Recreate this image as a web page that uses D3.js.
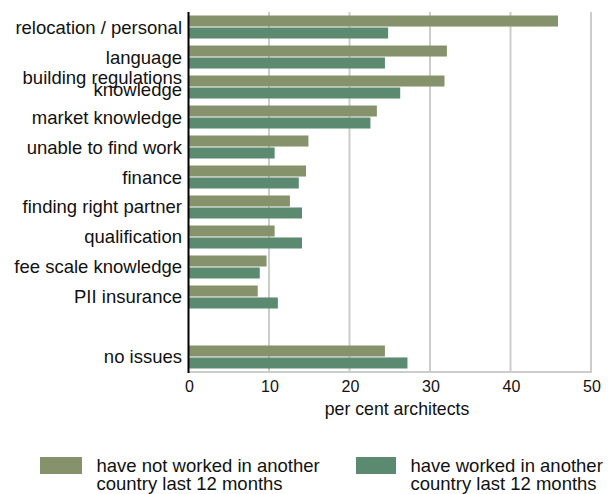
<!DOCTYPE html>
<html>
<head>
<meta charset="utf-8">
<script src="https://cdn.jsdelivr.net/npm/d3@7"></script>
<style>
  html, body { margin: 0; padding: 0; background: #fff; }
  svg { display: block; font-family: "Liberation Sans", Arial, sans-serif; }
</style>
</head>
<body>
<svg id="chart" width="609" height="494"></svg>
<script>
// Reasons given for not working abroad (per cent of architects)
const categories = [
  "relocation / personal",
  "language",
  "building regulations\nknowledge",
  "market knowledge",
  "unable to find work",
  "finance",
  "finding right partner",
  "qualification",
  "fee scale knowledge",
  "PII insurance",
  "",
  "no issues"
];
const notWorkedAbroad = [45.9, 32.1, 31.8, 23.4, 14.9, 14.6, 12.6, 10.7, 9.7, 8.6, null, 24.4];
const workedAbroad    = [24.8, 24.4, 26.3, 22.6, 10.7, 13.7, 14.1, 14.1, 8.85, 11.1, null, 27.2];
const seriesNames = [
  "have not worked in another\ncountry last 12 months",
  "have worked in another\ncountry last 12 months"
];
const seriesColors = ["#86926c", "#5b8a70"];
const xTicks = [0, 10, 20, 30, 40, 50];
const xTitle = "per cent architects";

const svg = d3.select("#chart");
const plotLeft = 188.5, plotRight = 591, plotTop = 12, plotBottom = 372;

const x = d3.scaleLinear().domain([0, 50]).range([plotLeft, plotRight]);
const y = d3.scaleBand().domain(d3.range(categories.length)).range([plotTop, plotBottom])
  .paddingInner(0.233).paddingOuter(0.117);
const ySub = d3.scaleBand().domain([0, 1]).range([0, y.bandwidth()]).paddingInner(0.08);

// vertical grid lines
svg.append("g").selectAll("line")
  .data(xTicks.filter(t => t > 0))
  .join("line")
  .attr("x1", d => x(d)).attr("x2", d => x(d))
  .attr("y1", plotTop).attr("y2", plotBottom)
  .attr("stroke", "#cccccc").attr("stroke-width", 2);

// baseline along the bottom
svg.append("line")
  .attr("x1", plotLeft).attr("x2", plotRight + 1)
  .attr("y1", plotBottom).attr("y2", plotBottom)
  .attr("stroke", "#cccccc").attr("stroke-width", 2);

// bars
const series = [notWorkedAbroad, workedAbroad];
series.forEach((vals, s) => {
  svg.append("g").selectAll("rect")
    .data(vals.map((v, i) => ({ v, i })).filter(d => d.v !== null))
    .join("rect")
    .attr("x", x(0))
    .attr("y", d => y(d.i) + ySub(s))
    .attr("width", d => x(d.v) - x(0))
    .attr("height", ySub.bandwidth())
    .attr("fill", seriesColors[s]);
});

// zero axis line
svg.append("line")
  .attr("x1", plotLeft).attr("x2", plotLeft)
  .attr("y1", plotTop).attr("y2", plotBottom + 1)
  .attr("stroke", "#000").attr("stroke-width", 2);

// category labels
const labels = svg.append("g").attr("font-size", 18.5).attr("fill", "#111").attr("text-anchor", "end");
categories.forEach((c, i) => {
  if (!c) return;
  const lines = c.split("\n");
  const cy = y(i) + y.bandwidth() / 2;
  const t = labels.append("text").attr("x", 182);
  if (lines.length === 1) {
    t.attr("y", cy + 6.5).text(c);
  } else {
    lines.forEach((ln, k) => {
      t.append("tspan").attr("x", 182).attr("y", cy - 3.5 + k * 12.7).text(ln);
    });
  }
});

// x tick labels
svg.append("g").attr("font-size", 16).attr("fill", "#111").attr("text-anchor", "middle")
  .selectAll("text").data(xTicks).join("text")
  .attr("x", d => x(d) + 1).attr("y", 392).text(d => d);

// axis title
svg.append("text").attr("x", 397).attr("y", 415)
  .attr("text-anchor", "middle").attr("font-size", 17.7).attr("fill", "#111")
  .text(xTitle);

// legend
const legendX = [40, 356];
seriesNames.forEach((name, s) => {
  const g = svg.append("g").attr("transform", `translate(${legendX[s]},457)`);
  g.append("rect").attr("width", s === 0 ? 42 : 40).attr("height", 17).attr("fill", seriesColors[s]);
  const t = g.append("text").attr("font-size", 18.5).attr("fill", "#111");
  name.split("\n").forEach((ln, k) => {
    t.append("tspan").attr("x", s === 0 ? 56.5 : 54.5).attr("y", 14.5 + k * 18.7).text(ln);
  });
});
</script>
</body>
</html>
